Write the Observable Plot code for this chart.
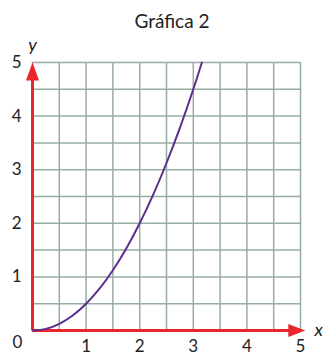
<!DOCTYPE html>
<html>
<head>
<meta charset="utf-8">
<script src="https://cdn.jsdelivr.net/npm/d3@7"></script>
<script src="https://cdn.jsdelivr.net/npm/@observablehq/plot@0.6"></script>
<style>
  body { margin: 0; background: #fff; font-family: Lato, "Open Sans", sans-serif; }
  #title { width: 323px; height: 40px; box-sizing: border-box; padding-left: 21px; padding-top: 10px;
           text-align: center; font-size: 19px; line-height: 22px; color: #222; }
</style>
</head>
<body>
<div id="title">Gráfica 2</div>
<div id="chart"></div>
<script>
// Data
const titleText = "Gráfica 2";
const curveX = [0, 0.25, 0.5, 0.75, 1, 1.25, 1.5, 1.75, 2, 2.25, 2.5, 2.75, 3, 3.16];
const curveY = [0, 0.03, 0.125, 0.28, 0.5, 0.78, 1.125, 1.53, 2, 2.53, 3.125, 3.78, 4.5, 5];
const gridLines = [0, 0.5, 1, 1.5, 2, 2.5, 3, 3.5, 4, 4.5, 5];
const xTicks = [1, 2, 3, 4, 5];
const yTicks = [1, 2, 3, 4, 5];
const xArrowEnd = 5.09;
const yArrowEnd = 5;

document.getElementById("title").textContent = titleText;
const curve = curveX.map((x, i) => ({x, y: curveY[i]}));
const red = "#e8262c", gridColor = "#97aca4", purple = "#5c2e8f";

const arrowUp = {draw(ctx) { ctx.moveTo(0, 0); ctx.lineTo(-6.5, 18); ctx.lineTo(6.5, 18); ctx.closePath(); }};
const arrowRight = {draw(ctx) { ctx.moveTo(0, 0); ctx.lineTo(-17, -6.5); ctx.lineTo(-17, 6.5); ctx.closePath(); }};

const chart = Plot.plot({
  width: 323, height: 316,
  marginTop: 22, marginBottom: 26, marginLeft: 32, marginRight: 23,
  style: {fontFamily: "Lato, 'Open Sans', sans-serif", fontSize: "17px", color: "#222", background: "#fff", overflow: "visible"},
  x: {domain: [0, 5]},
  y: {domain: [0, 5]},
  marks: [
    Plot.ruleX(gridLines, {x: d => d, y1: 0, y2: 5, stroke: gridColor, strokeWidth: 1.5}),
    Plot.ruleY(gridLines, {y: d => d, x1: 0, x2: 5, stroke: gridColor, strokeWidth: 1.5}),
    Plot.ruleX([0], {x: d => d, y1: 0, y2: yArrowEnd - 0.2, stroke: red, strokeWidth: 3}),
    Plot.ruleY([0], {y: d => d, x1: 0, x2: xArrowEnd - 0.1, stroke: red, strokeWidth: 3}),
    Plot.dot([{x: 0, y: yArrowEnd}], {x: "x", y: "y", symbol: arrowUp, fill: red, stroke: null, r: 1}),
    Plot.dot([{x: xArrowEnd, y: 0}], {x: "x", y: "y", symbol: arrowRight, fill: red, stroke: null, r: 1}),
    Plot.line(curve, {x: "x", y: "y", stroke: purple, strokeWidth: 2, curve: "natural"}),
    Plot.axisX({ticks: xTicks, tickFormat: "d", tickSize: 0, tickPadding: 9, label: null, fontSize: 17}),
    Plot.axisY({ticks: yTicks, tickFormat: "d", tickSize: 0, tickPadding: 11, label: null, fontSize: 17}),
    Plot.text(["0"], {x: 0, y: 0, text: d => d, dx: -15, dy: 12, fontSize: 17}),
    Plot.text(["y"], {x: 0, y: 5, text: d => d, dy: -17, fontSize: 18, fontStyle: "italic"}),
    Plot.text(["x"], {x: 5, y: 0, text: d => d, dx: 14, textAnchor: "start", fontSize: 18, fontStyle: "italic"})
  ]
});
document.getElementById("chart").appendChild(chart);
</script>
</body>
</html>
